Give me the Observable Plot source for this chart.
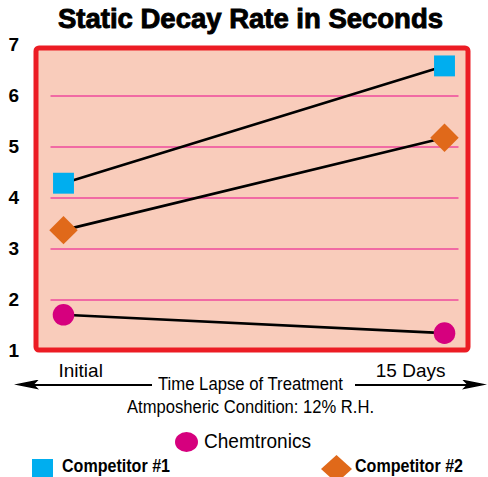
<!DOCTYPE html>
<html>
<head>
<meta charset="utf-8">
<script src="https://cdn.jsdelivr.net/npm/d3@7"></script>
<script src="https://cdn.jsdelivr.net/npm/@observablehq/plot@0.6"></script>
<style>
  html, body { margin: 0; padding: 0; background: #ffffff; }
  #wrap { position: relative; width: 488px; height: 477px; overflow: hidden; }
  #wrap svg { position: absolute; left: 0; top: 34px; }
</style>
</head>
<body>
<div id="wrap"></div>
<script>
const times = ["Initial", "15 Days"];
const seriesNames = ["Chemtronics", "Competitor #1", "Competitor #2"];
const chemtronics = [1.71, 1.35];
const competitor1 = [4.29, 6.59];
const competitor2 = [3.37, 5.18];
const seriesColors = ["#d6007e", "#00aeef", "#e0691a"];
const seriesSymbols = ["circle", "square", "diamond2"];
const seriesRadius = [10.8, 11.8, 12.8];
const yTicks = [1, 2, 3, 4, 5, 6, 7];
const gridValues = [2, 3, 4, 5, 6];
const titleText = "Static Decay Rate in Seconds";
const xTitle = "Time Lapse of Treatment";
const noteText = "Atmposheric Condition: 12% R.H.";

const FONT = '"Liberation Sans", Arial, Helvetica, sans-serif';
const values = [chemtronics, competitor1, competitor2];
const rows = seriesNames.flatMap((s, i) => times.map((t, j) => ({series: s, time: t, value: values[i][j]})));

const wrap = document.getElementById("wrap");

const chart = Plot.plot({
  width: 488,
  height: 346,
  marginTop: 10.5,
  marginBottom: 29.5,
  marginLeft: 35.5,
  marginRight: 20.5,
  x: {type: "point", domain: times, padding: 0, insetLeft: 27.5, insetRight: 23},
  y: {domain: [1, 7]},
  style: {background: "transparent", fontFamily: FONT, color: "#000", overflow: "visible"},
  marks: [
    Plot.frame({fill: "#f9ccbb", stroke: "#ec1c24", strokeWidth: 5, rx: 3, insetTop: 3, insetBottom: 1}),
    Plot.ruleY(gridValues, {stroke: "#ee4a9c", strokeWidth: 1.5, insetLeft: 15, insetRight: 9}),
    Plot.line(rows, {x: "time", y: "value", z: "series", stroke: "#000", strokeWidth: 2.6}),
    ...seriesNames.map((s, i) => Plot.dot(rows.filter(d => d.series === s), {
      x: "time", y: "value", symbol: () => seriesSymbols[i], r: seriesRadius[i],
      fill: seriesColors[i], stroke: "none"
    })),
    Plot.axisY(yTicks, {tickSize: 0, tickPadding: 17, fontSize: 19, fontWeight: "bold", label: null,
      tickFormat: d => String(d), stroke: "#000", strokeWidth: 0.4}),
    Plot.axisX([times[0]], {tickSize: 0, tickPadding: 12.5, fontSize: 19, textAnchor: "start", dx: -5, label: null}),
    Plot.axisX([times[1]], {tickSize: 0, tickPadding: 12.5, fontSize: 19, textAnchor: "end", dx: 1, label: null})
  ]
});
wrap.appendChild(chart);

function addText(str, {center, left, baseline, size, weight = 400, width, stroke}) {
  const el = document.createElement("div");
  el.textContent = str;
  Object.assign(el.style, {
    position: "absolute", whiteSpace: "nowrap", fontFamily: FONT,
    fontSize: size + "px", lineHeight: size + "px", fontWeight: weight,
    top: (baseline - 0.8465 * size) + "px", left: "0px", color: "#000",
    transformOrigin: "0 0"
  });
  if (stroke) el.style.webkitTextStroke = stroke + "px #000";
  wrap.appendChild(el);
  const w = el.getBoundingClientRect().width;
  const target = width || w;
  const sx = target / w;
  const x0 = left != null ? left : center - target / 2;
  el.style.left = x0 + "px";
  el.style.transform = `scaleX(${sx})`;
  return el;
}

function addBox(styles) {
  const el = document.createElement("div");
  Object.assign(el.style, {position: "absolute"}, styles);
  wrap.appendChild(el);
  return el;
}

// Title
addText(titleText, {center: 250.5, baseline: 29.3, size: 27, weight: 700, width: 385, stroke: 0.9});

// Double arrow with axis title
const arrowY = 384.5;
addBox({left: "24px", top: (arrowY - 1) + "px", width: "128px", height: "2px", background: "#000"});
addBox({left: "14px", top: (arrowY - 5) + "px", width: "25px", height: "10px", background: "#000",
  clipPath: "polygon(0 50%, 100% 0, 80% 50%, 100% 100%)"});
addBox({left: "355px", top: (arrowY - 1) + "px", width: "122px", height: "2px", background: "#000"});
addBox({left: "462px", top: (arrowY - 5) + "px", width: "25px", height: "10px", background: "#000",
  clipPath: "polygon(100% 50%, 0 0, 20% 50%, 0 100%)"});
addText(xTitle, {center: 250.5, baseline: 390.7, size: 17.5, width: 185});
addText(noteText, {center: 250, baseline: 414.3, size: 17.5, width: 247});

// Legend
const legendPos = [
  {cx: 186.5, cy: 441.5, tx: 204, base: 448.3, size: 19.5, weight: 400, width: 107},
  {cx: 42.5, cy: 469, tx: 62, base: 472.8, size: 17.5, weight: 700, width: 108},
  {cx: 336.5, cy: 469, tx: 355, base: 472.8, size: 17.5, weight: 700, width: 108}
];
seriesNames.forEach((s, i) => {
  const p = legendPos[i];
  if (seriesSymbols[i] === "circle") {
    addBox({left: (p.cx - 11.5) + "px", top: (p.cy - 10) + "px", width: "23px", height: "20px",
      borderRadius: "50%", background: seriesColors[i]});
  } else if (seriesSymbols[i] === "square") {
    addBox({left: (p.cx - 10.5) + "px", top: (p.cy - 10) + "px", width: "21px", height: "20px",
      background: seriesColors[i]});
  } else {
    addBox({left: (p.cx - 15.5) + "px", top: (p.cy - 14) + "px", width: "31px", height: "28px",
      background: seriesColors[i], clipPath: "polygon(50% 0, 100% 50%, 50% 100%, 0 50%)"});
  }
  addText(s, {left: p.tx, baseline: p.base, size: p.size, weight: p.weight, width: p.width});
});
</script>
</body>
</html>
